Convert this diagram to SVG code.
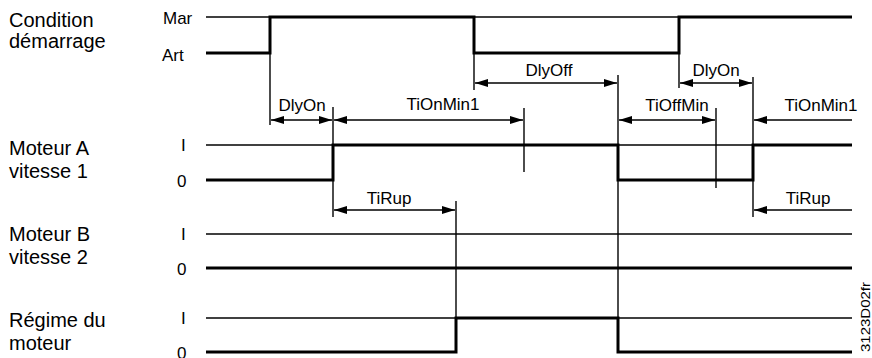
<svg xmlns="http://www.w3.org/2000/svg" width="872" height="358" viewBox="0 0 872 358">
<defs>
<marker id="ah" viewBox="0 0 13 8" refX="13" refY="4" markerWidth="13" markerHeight="8" markerUnits="userSpaceOnUse" orient="auto-start-reverse">
<path d="M0,0 L13,4 L0,8 Z" fill="#000"/>
</marker>
</defs>
<style>
.lbl{font-family:"Liberation Sans",Arial,sans-serif;font-size:20px;fill:#000}
.lv{font-family:"Liberation Sans",Arial,sans-serif;font-size:17px;fill:#000}
.dim{font-family:"Liberation Sans",Arial,sans-serif;font-size:17px;fill:#000;text-anchor:middle}
.ref{stroke:#000;stroke-width:1.4;fill:none}
.sig{stroke:#000;stroke-width:3;fill:none;stroke-linejoin:miter}
.vl{stroke:#000;stroke-width:1.4;fill:none}
.da{stroke:#000;stroke-width:1.4;fill:none}
</style>
<rect width="872" height="358" fill="#fff"/>

<g id="condition">
<text class="lbl" x="9" y="27">Condition</text>
<text class="lbl" x="9" y="48">démarrage</text>
<text class="lv" x="163" y="24">Mar</text>
<text class="lv" x="162" y="61">Art</text>
<line class="ref" x1="206" y1="17" x2="852" y2="17"/>
<polyline class="sig" points="206,53 270,53 270,17 474,17 474,53 679,53 679,17 852,17"/>
</g>

<g id="moteurA">
<text class="lbl" x="9" y="155">Moteur A</text>
<text class="lbl" x="9" y="178">vitesse 1</text>
<text class="lv" x="181" y="151">I</text>
<text class="lv" x="177" y="187">0</text>
<line class="ref" x1="206" y1="145" x2="852" y2="145"/>
<polyline class="sig" points="206,180 333,180 333,145 618,145 618,180 753,180 753,145 852,145"/>
</g>

<g id="moteurB">
<text class="lbl" x="9" y="241">Moteur B</text>
<text class="lbl" x="9" y="264">vitesse 2</text>
<text class="lv" x="181" y="240">I</text>
<text class="lv" x="177" y="275">0</text>
<line class="ref" x1="206" y1="234" x2="852" y2="234"/>
<line class="sig" x1="206" y1="268" x2="852" y2="268"/>
</g>

<g id="regime">
<text class="lbl" x="9" y="327">Régime du</text>
<text class="lbl" x="9" y="350">moteur</text>
<text class="lv" x="181" y="324">I</text>
<text class="lv" x="177" y="359">0</text>
<line class="ref" x1="206" y1="318" x2="852" y2="318"/>
<polyline class="sig" points="206,352 456,352 456,318 618,318 618,352 852,352"/>
</g>

<g id="connectors">
<line class="vl" x1="270" y1="17" x2="270" y2="125"/>
<line class="vl" x1="333" y1="107" x2="333" y2="217"/>
<line class="vl" x1="474" y1="17" x2="474" y2="90"/>
<line class="vl" x1="524" y1="108" x2="524" y2="172"/>
<line class="vl" x1="618" y1="75" x2="618" y2="352"/>
<line class="vl" x1="679" y1="17" x2="679" y2="88"/>
<line class="vl" x1="716" y1="108" x2="716" y2="188"/>
<line class="vl" x1="753" y1="77" x2="753" y2="217"/>
<line class="vl" x1="456" y1="201" x2="456" y2="352"/>

<line class="da" x1="271" y1="120" x2="332" y2="120" marker-start="url(#ah)" marker-end="url(#ah)"/>
<line class="da" x1="334" y1="120" x2="523" y2="120" marker-start="url(#ah)" marker-end="url(#ah)"/>
<line class="da" x1="475" y1="83" x2="617" y2="83" marker-start="url(#ah)" marker-end="url(#ah)"/>
<line class="da" x1="680" y1="83" x2="752" y2="83" marker-start="url(#ah)" marker-end="url(#ah)"/>
<line class="da" x1="619" y1="120" x2="715" y2="120" marker-start="url(#ah)" marker-end="url(#ah)"/>
<line class="da" x1="754" y1="120" x2="852" y2="120" marker-start="url(#ah)"/>
<line class="da" x1="334" y1="210" x2="455" y2="210" marker-start="url(#ah)" marker-end="url(#ah)"/>
<line class="da" x1="754" y1="210" x2="852" y2="210" marker-start="url(#ah)"/>

<text class="dim" x="302" y="111">DlyOn</text>
<text class="dim" x="443" y="110">TiOnMin1</text>
<text class="dim" x="549" y="76">DlyOff</text>
<text class="dim" x="716" y="76">DlyOn</text>
<text class="dim" x="677" y="111">TiOffMin</text>
<text class="dim" x="821" y="111">TiOnMin1</text>
<text class="dim" x="389" y="204">TiRup</text>
<text class="dim" x="808" y="204">TiRup</text>
<text x="870" y="352" transform="rotate(-90 870 352)" font-family="Liberation Sans, Arial, sans-serif" font-size="13" textLength="70" lengthAdjust="spacingAndGlyphs">3123D02fr</text>
</g>
</svg>
